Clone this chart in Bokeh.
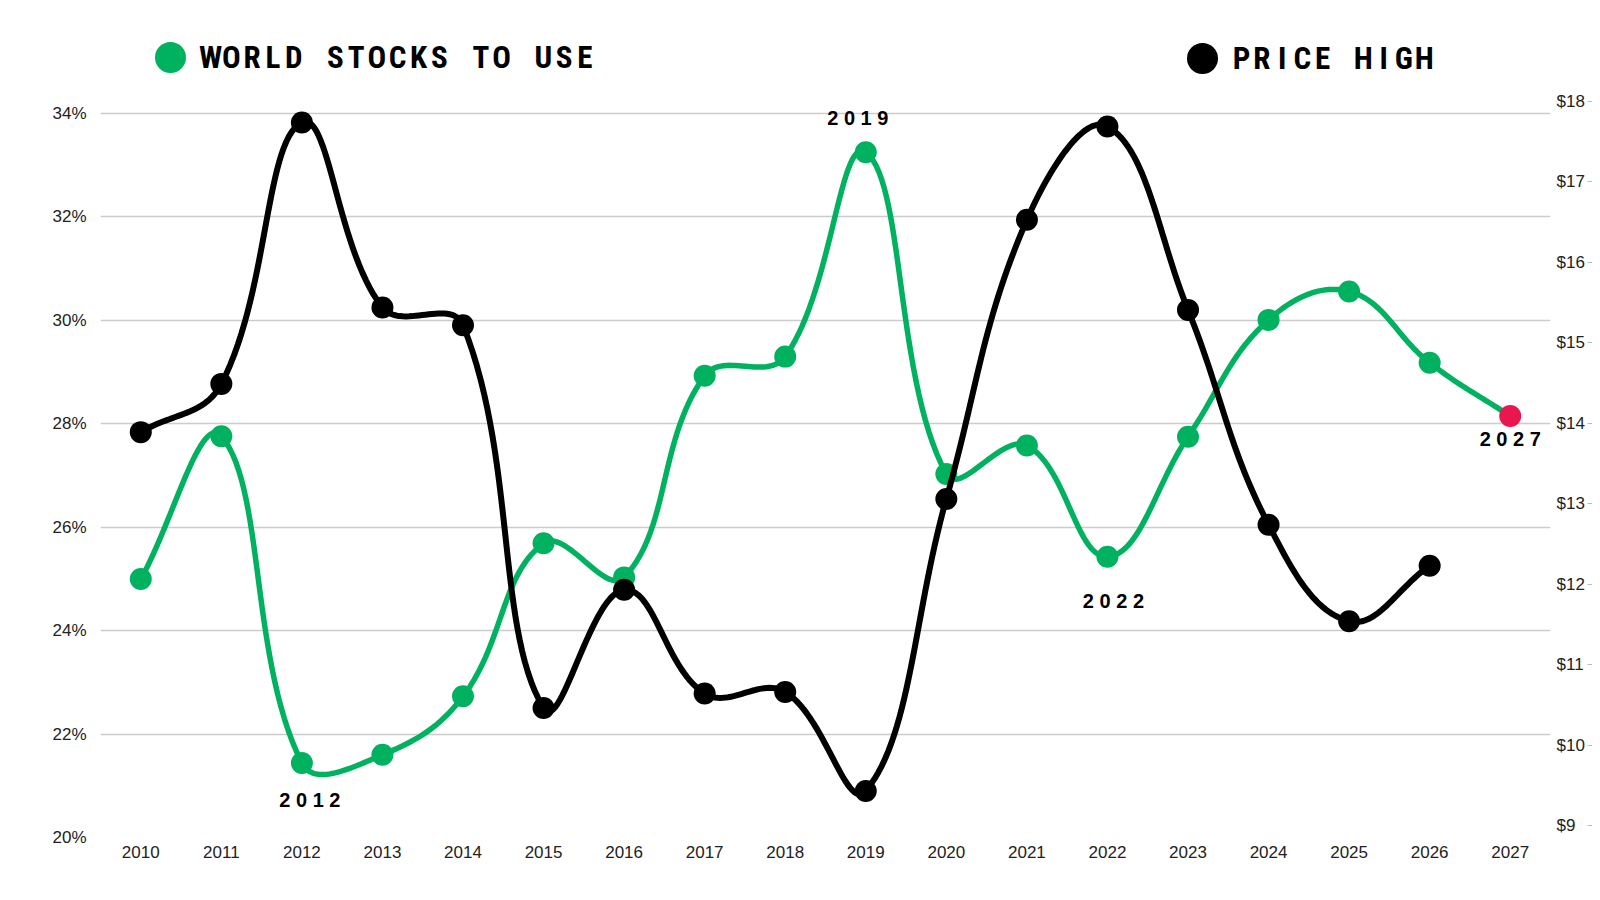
import numpy as np
from bokeh.plotting import figure
from bokeh.models import Range1d, LinearAxis, FixedTicker, ColumnDataSource
from bokeh.core.properties import value
from bokeh.embed import file_html
from bokeh.resources import INLINE

# ---------------- data ----------------
years = list(range(2010, 2028))
stocks_to_use = [25.00, 27.76, 21.44, 21.60, 22.73, 25.69, 25.03, 28.93, 29.30,
                 33.25, 27.03, 27.58, 25.43, 27.75, 30.01, 30.56, 29.18, 28.15]
price_years = list(range(2010, 2027))
price_high = [13.89, 14.49, 17.74, 15.44, 15.22, 10.46, 11.93, 10.64, 10.66,
              9.43, 13.06, 16.53, 17.69, 15.41, 12.74, 11.54, 12.23]
year_labels = [str(y) for y in years]
pct_ticks = [20, 22, 24, 26, 28, 30, 32, 34]
pct_labels = [f"{t}%" for t in pct_ticks]
usd_ticks = [9, 10, 11, 12, 13, 14, 15, 16, 17, 18]
usd_labels = [f"${t}" for t in usd_ticks]
annotated_years = [2012, 2019, 2022, 2027]
series_names = ["WORLD STOCKS TO USE", "PRICE HIGH"]
projection_year = 2027

# ---------------- style / layout ----------------
GREEN = "#00B25F"
BLACK = "#000000"
RED = "#E8184E"
GRID = "#cccccc"
AXIS_TEXT = "#222222"
AXIS_FONT = "Liberation Sans"
LEGEND_FONT = "'Roboto Condensed', 'Liberation Sans Narrow', Roboto, sans-serif"

W, H = 1592, 892
FL, FR, FT, FB = 100, 1550, 0, 837          # frame edges in figure pixels
x0, x1 = years[0] - 0.5, years[-1] + 0.5
ppx = (FR - FL) / (x1 - x0)
ppy_l = 51.71                               # px per percentage point
ppy_r = 80.44                               # px per dollar
l_bot = 20.0
l_top = l_bot + (FB - FT) / ppy_l
r_bot = 9.0 - 12.0 / ppy_r                  # $9 sits 12 px above the 20% line
r_top = r_bot + (FB - FT) / ppy_r


def px_to_x(px):
    return x0 + (px - FL) / ppx


def py_to_yl(py):
    return l_bot + (FB - py) / ppy_l


def spline(xs, ys, sx, sy, lo, hi, t=0.4, n=30):
    P = np.column_stack([np.asarray(xs, float) * sx, np.asarray(ys, float) * sy])
    m = len(P)
    cpp = np.zeros_like(P)
    cpn = np.zeros_like(P)
    for i in range(m):
        prev = P[i - 1] if i > 0 else P[i]
        cur = P[i]
        nxt = P[i + 1] if i < m - 1 else P[i]
        d01 = np.hypot(*(cur - prev))
        d12 = np.hypot(*(nxt - cur))
        s = d01 + d12
        s01 = d01 / s if s else 0.0
        s12 = d12 / s if s else 0.0
        cpp[i] = cur - t * s01 * (nxt - prev)
        cpn[i] = cur + t * s12 * (nxt - prev)
    cpp[:, 1] = np.clip(cpp[:, 1], lo * sy, hi * sy)
    cpn[:, 1] = np.clip(cpn[:, 1], lo * sy, hi * sy)
    segs = []
    for i in range(m - 1):
        u = np.linspace(0, 1, n, endpoint=(i == m - 2))[:, None]
        B = ((1 - u) ** 3) * P[i] + 3 * ((1 - u) ** 2) * u * cpn[i] \
            + 3 * (1 - u) * (u ** 2) * cpp[i + 1] + (u ** 3) * P[i + 1]
        segs.append(B)
    B = np.vstack(segs)
    return B[:, 0] / sx, B[:, 1] / sy


# ---------------- figure ----------------
p = figure(width=W, height=H, output_backend="svg", toolbar_location=None,
           x_range=Range1d(x0, x1), y_range=Range1d(l_bot, l_top),
           min_border_left=FL, min_border_right=W - FR,
           min_border_top=FT, min_border_bottom=H - FB)
p.extra_y_ranges = {"usd": Range1d(r_bot, r_top)}
p.outline_line_color = None
p.background_fill_color = "white"
p.border_fill_color = "white"

p.xgrid.visible = False
p.ygrid.ticker = FixedTicker(ticks=pct_ticks)
p.ygrid.grid_line_color = GRID
p.ygrid.grid_line_width = 1.5

xa = p.xaxis[0]
xa.ticker = FixedTicker(ticks=years)
xa.major_label_overrides = {y: lab for y, lab in zip(years, year_labels)}
xa.axis_line_color = None
xa.major_tick_line_color = None
xa.minor_tick_line_color = None
xa.major_label_standoff = 2
xa.major_label_text_font = AXIS_FONT
xa.major_label_text_font_size = "17px"
xa.major_label_text_color = AXIS_TEXT

ya = p.yaxis[0]
ya.ticker = FixedTicker(ticks=pct_ticks)
ya.major_label_overrides = {t: lab for t, lab in zip(pct_ticks, pct_labels)}
ya.axis_line_color = None
ya.major_tick_line_color = None
ya.minor_tick_line_color = None
ya.major_label_standoff = 8
ya.major_label_text_font = AXIS_FONT
ya.major_label_text_font_size = "17px"
ya.major_label_text_color = AXIS_TEXT

ra = LinearAxis(y_range_name="usd", ticker=FixedTicker(ticks=usd_ticks),
                major_label_overrides={t: lab for t, lab in zip(usd_ticks, usd_labels)},
                axis_line_color=None, major_tick_line_color=None,
                minor_tick_line_color=None, major_label_standoff=0,
                major_label_text_font=AXIS_FONT, major_label_text_font_size="17px",
                major_label_text_color=AXIS_TEXT)
p.add_layout(ra, "right")

# small tick dashes to the right of the dollar labels
ra_ticks = LinearAxis(y_range_name="usd", ticker=FixedTicker(ticks=usd_ticks),
                      major_label_overrides={t: "" for t in usd_ticks},
                      axis_line_color=None, major_tick_line_color="#bbbbbb",
                      major_tick_line_width=1, major_tick_in=0, major_tick_out=5,
                      minor_tick_line_color=None, major_label_standoff=0,
                      major_label_text_font_size="1px")
p.add_layout(ra_ticks, "right")

# ---------------- series ----------------
gx, gy = spline(years, stocks_to_use, ppx, ppy_l, l_bot, l_top)
p.line(gx, gy, line_color=GREEN, line_width=5.5, line_cap="round", line_join="round")
g_colors = [RED if y == projection_year else GREEN for y in years]
p.scatter(years, stocks_to_use, size=22, fill_color=g_colors, line_color=None)

bx, by = spline(price_years, price_high, ppx, ppy_r, r_bot, r_top)
p.line(bx, by, line_color=BLACK, line_width=6, line_cap="round", line_join="round",
       y_range_name="usd")
p.scatter(price_years, price_high, size=22, fill_color=BLACK, line_color=None,
          y_range_name="usd")

# ---------------- data annotations ----------------
ann_offsets_x = [8, -8, 6, 0]
ann_offsets_y = [37, -34, 44, 23]
ann_src = ColumnDataSource(dict(
    x=annotated_years,
    y=[stocks_to_use[years.index(a)] for a in annotated_years],
    text=[" ".join(str(a)) for a in annotated_years],
    xo=ann_offsets_x, yo=ann_offsets_y))
p.text(x="x", y="y", text="text", x_offset="xo", y_offset="yo", source=ann_src,
       text_font=value(AXIS_FONT), text_font_style="bold", text_font_size="20px",
       text_color=BLACK, text_align="center", text_baseline="middle")

# ---------------- legend (top) ----------------
legend_specs = [(series_names[0], GREEN, 170, 57, 210, 20.8),
                (series_names[1], BLACK, 1202, 58, 1241, 20.3)]
for name, col, cxp, cyp, lx, pitch in legend_specs:
    p.scatter([px_to_x(cxp)], [py_to_yl(cyp)], size=31, fill_color=col, line_color=None)
    lxs, lys, lts = [], [], []
    for k, ch in enumerate(name):
        if ch == " ":
            continue
        lxs.append(px_to_x(lx + k * pitch))
        lys.append(py_to_yl(cyp))
        lts.append(ch)
    p.text(x=lxs, y=lys, text=lts, text_font=value(LEGEND_FONT), text_font_style="bold",
           text_font_size="31px", text_color=BLACK, text_align="center",
           text_baseline="middle")

open("out.html", "w").write(file_html(p, INLINE))
